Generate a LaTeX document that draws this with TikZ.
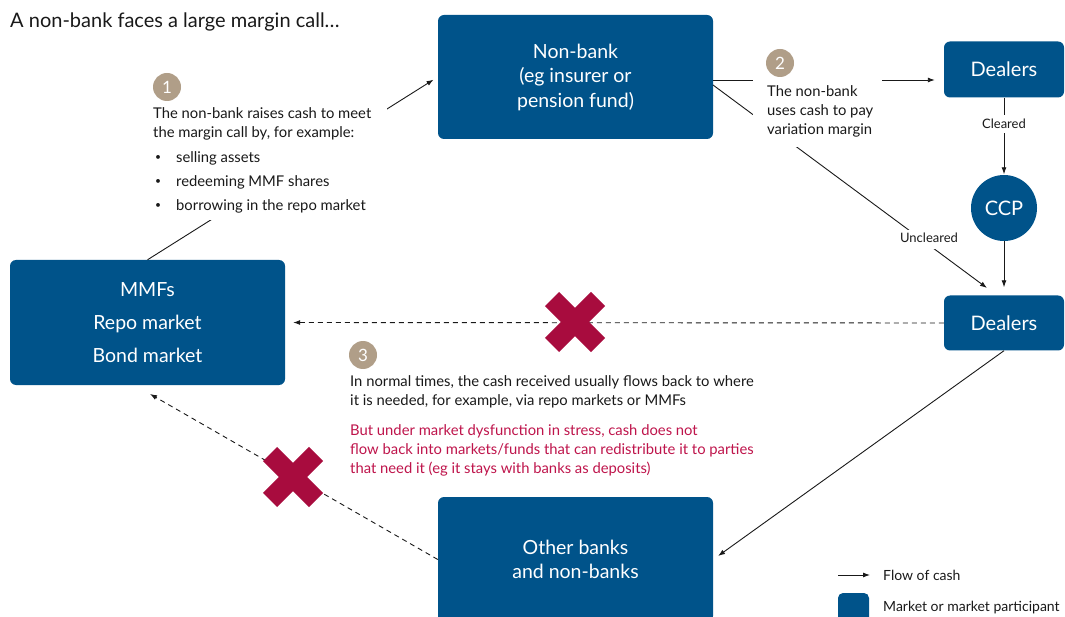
\documentclass[tikz,border=0pt]{standalone}
\usepackage{fontspec}
\setmainfont{Lato}
\usetikzlibrary{arrows.meta,calc}
\definecolor{boeblue}{RGB}{0,83,138}
\definecolor{boered}{RGB}{168,12,62}
\definecolor{boetext}{RGB}{190,20,75}
\definecolor{stepc}{RGB}{176,158,136}
\definecolor{ink}{RGB}{25,25,25}
\newcommand{\smbul}{\makebox[21pt][l]{\raisebox{0.15ex}{\scalebox{0.7}{\textbullet}}}}
\begin{document}
\begin{tikzpicture}[x=1pt,y=-1pt,
  box/.style={fill=boeblue, rounded corners=6pt, text=white, align=center, inner sep=0pt,
    font=\fontsize{19.5}{24.5}\selectfont},
  flow/.style={draw=ink, line width=0.9pt, -{Latex[length=7pt,width=5pt]}},
  dflow/.style={flow, dash pattern=on 5pt off 4pt},
  stepnum/.style={circle, fill=stepc, text=white, minimum size=28pt, inner sep=0pt,
    font=\fontsize{17}{20}\selectfont},
  body/.style={anchor=west, align=left, inner sep=0pt, text=ink,
    font=\fontsize{14.8}{19}\selectfont},
  lbl/.style={inner sep=3pt, text=ink, font=\fontsize{13}{16}\selectfont},
  whitebg/.style={fill=white, draw=none},
  xm/.style={draw=boered, line width=20pt, line cap=butt}
]
\useasboundingbox (0,0) rectangle (1065,617);
\clip (0,0) rectangle (1065,617);

% title
\node[anchor=west, inner sep=0pt, text=ink, font=\fontsize{20}{24}\selectfont] (title) at (10,22) {A non-bank faces a large margin call\ldots};

% boxes
\node[box, minimum width=275pt, minimum height=124pt] (nb) at (575.5,77) {Non-bank\\(eg insurer or\\pension fund)};
\node[box, minimum width=120pt, minimum height=56pt, font=\fontsize{20}{24}\selectfont] (d1) at (1004,69.5) {Dealers};
\node[box, circle, minimum size=66pt, font=\fontsize{20}{24}\selectfont] (ccp) at (1004,208) {CCP};
\node[box, minimum width=120pt, minimum height=55pt, font=\fontsize{20}{24}\selectfont] (d2) at (1004,323) {Dealers};
\node[box, minimum width=275pt, minimum height=125pt, font=\fontsize{19.5}{33}\selectfont] (mmf) at (147.5,322.5) {MMFs\\Repo market\\Bond market};
\node[box, minimum width=275pt, minimum height=125pt] (ob) at (575.5,559.5) {Other banks\\and non-banks};

% connectors
\coordinate (nbR) at (713,80);
\coordinate (nbR2) at (713,85);
\coordinate (u2) at (987,288);
\coordinate (mmfT) at (150,394);
\draw[flow, shorten >=5pt] (mmf.north) -- (nb.west);
\draw[flow, shorten >=9pt] (nbR) -- (nbR -| d1.west);
\draw[flow] (nbR2) -- (u2);
\draw[flow, shorten >=0.5pt] (d1.south) -- (ccp.north);
\draw[flow, shorten >=8pt] (ccp.south) -- (d2.north);
\draw[flow, shorten >=6pt] (d2.south) -- (ob.east);
\draw[dflow, shorten >=8pt] (d2.west) -- (mmf.east);
\draw[dflow] (ob.west) -- (mmfT);

% white label backgrounds
\path[whitebg] (160,97) rectangle (387,220);
\path[whitebg] (753,37) rectangle (882,147);
\path[whitebg] (843,230) rectangle (965,249);
\path[whitebg] (923,115) rectangle (1045,133);

% labels
\node[lbl] (clr) at (1004,124) {Cleared};
\node[lbl] (unclr) at (929,238) {Uncleared};

% step 1
\node[stepnum] (s1) at (167,87) {1};
\node[body] (t1) at (153,124) {The non-bank raises cash to meet\\the margin call by, for example:};
\node[body, font=\fontsize{14.8}{24}\selectfont] (t1b) at (155,182) {\smbul selling assets\\\smbul redeeming MMF shares\\\smbul borrowing in the repo market};

% step 2
\node[stepnum] (s2) at (780,63) {2};
\node[body] (t2) at (767,111.5) {The non-bank\\uses cash to pay\\variation margin};

% step 3
\node[stepnum] (s3) at (363,355) {3};
\node[body] (t3) at (350,392) {In normal times, the cash received usually flows back to where\\it is needed, for example, via repo markets or MMFs};
\node[body, text=boetext] (t3r) at (350,450) {But under market dysfunction in stress, cash does not\\flow back into markets/funds that can redistribute it to parties\\that need it (eg it stays with banks as deposits)};

% crosses
\coordinate (x1) at (575,322);
\coordinate (x2) at (293,477);
\draw[xm] ($(x1)+(-23,-23)$) -- ($(x1)+(23,23)$);
\draw[xm] ($(x1)+(-23,23)$) -- ($(x1)+(23,-23)$);
\draw[xm] ($(x2)+(-23,-23)$) -- ($(x2)+(23,23)$);
\draw[xm] ($(x2)+(-23,23)$) -- ($(x2)+(23,-23)$);

% legend
\coordinate (la) at (838,575);
\coordinate (lb) at (870,575);
\draw[flow] (la) -- (lb);
\node[anchor=west, inner sep=0pt, text=ink, font=\fontsize{14}{18}\selectfont] (lt1) at (883,575) {Flow of cash};
\node[fill=boeblue, rounded corners=5pt, minimum width=31pt, minimum height=31pt, inner sep=0pt] (lsq) at (853.5,608.5) {};
\node[anchor=west, inner sep=0pt, text=ink, font=\fontsize{14}{18}\selectfont] (lt2) at (883,608) {Market or market participant};
\end{tikzpicture}
\end{document}
